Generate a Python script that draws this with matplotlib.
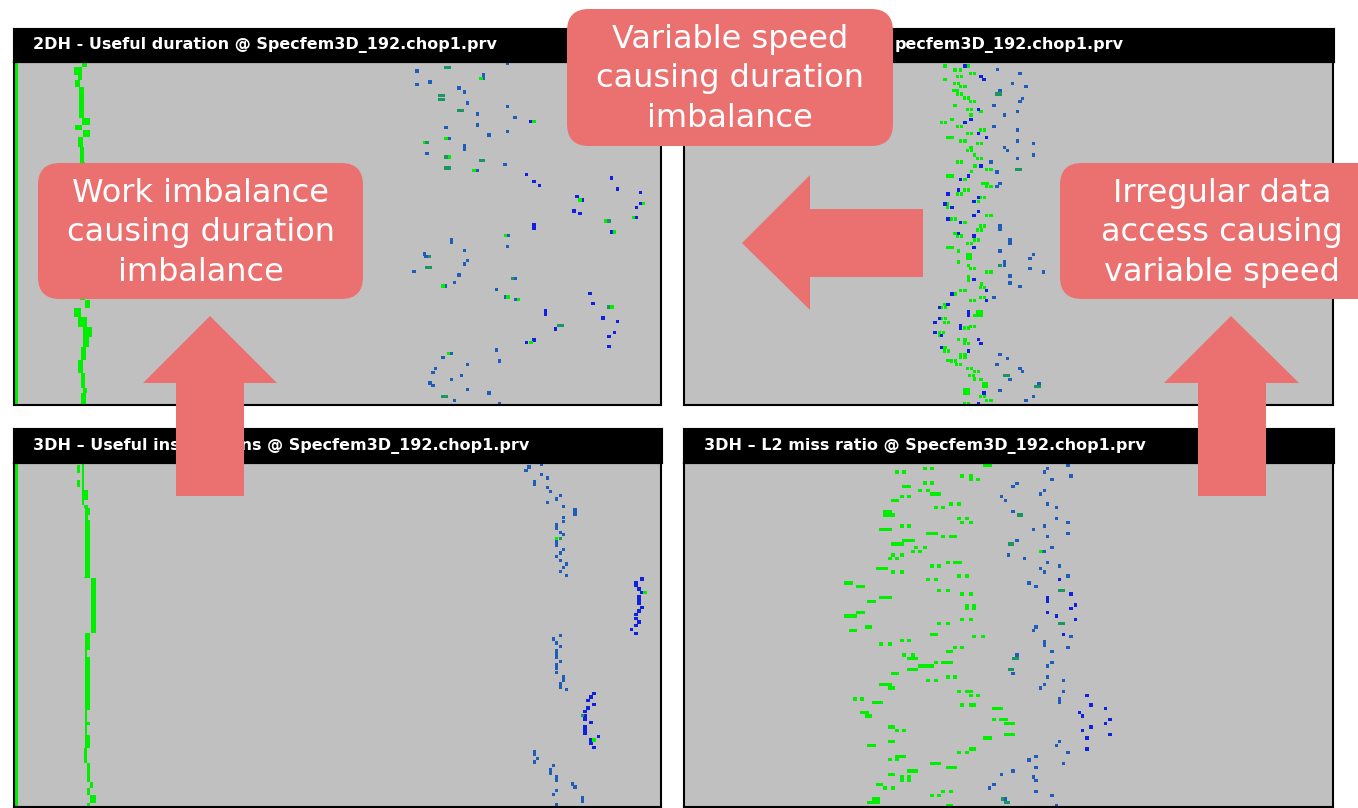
import numpy as np
import matplotlib
matplotlib.use("Agg")
import matplotlib.pyplot as plt
from matplotlib.patches import FancyBboxPatch, Polygon

# ---------------- data (histogram cells: x = value bin, y = thread row) ----------------
# the top-right title is largely hidden by a callout in the reference; only its visible tail is drawn
titles = ["2DH - Useful duration @ Specfem3D_192.chop1.prv",
          "pecfem3D_192.chop1.prv",
          "3DH \u2013 Useful instructions @ Specfem3D_192.chop1.prv",
          "3DH \u2013 L2 miss ratio @ Specfem3D_192.chop1.prv"]
title_offsets = [20, 212, 20, 21]  # px from the title bar's left edge
callout_texts = ["Variable speed\ncausing duration\nimbalance",
                 "Work imbalance\ncausing duration\nimbalance",
                 "Irregular data\naccess causing\nvariable speed"]

zero_bin = 7  # the always-present first bin on the left panels

# top-left: duration column (row edges, left, right)
tl_col_edges = [0, 14, 39, 54, 74, 169, 189, 204, 224, 254, 300, 714, 739, 764, 794, 824, 854, 894, 934, 979, 994, 1030]
tl_col_left = [203, 180, 193, 183, 196, 203, 183, 208, 193, 198, 198, 213, 181, 193, 208, 206, 201, 193, 201, 208, 201]
tl_col_right = [218, 203, 203, 198, 210, 228, 203, 228, 206, 210, 212, 228, 200, 220, 233, 226, 216, 208, 213, 218, 216]

tl_steel = [(1481, 4), (1209, 27), (1408, 38), (1408, 48), (1209, 67), (1248, 60), (1335, 78), (1352, 90),
            (1361, 123), (1391, 156), (1481, 134), (1503, 167), (1391, 189), (1425, 219), (1481, 208),
            (1296, 196), (1305, 230), (1239, 274), (1352, 252), (1352, 262), (1391, 326), (1473, 307),
            (1482, 521), (1481, 554), (1313, 532), (1313, 542), (1352, 566), (1231, 576), (1236, 584),
            (1361, 595), (1352, 606), (1200, 628), (1335, 639), (1322, 661), (1295, 672), (1503, 650),
            (1448, 683), (1474, 705), (1504, 713), (1448, 864), (1456, 897), (1313, 875), (1287, 886),
            (1265, 919), (1257, 931), (1361, 908), (1343, 941), (1313, 953), (1248, 963), (1257, 971),
            (1361, 982), (1425, 993), (1322, 1015), (1456, 1025)]
tl_deep = [(1538, 337), (1560, 359), (1577, 370), (1793, 348), (1811, 381), (1880, 392), (1689, 403),
           (1706, 414), (1680, 447), (1698, 455), (1880, 425), (1867, 436), (1867, 466), (1793, 510),
           (1560, 488), (1560, 498), (1595, 747), (1595, 757), (1625, 801), (1538, 842), (1560, 834),
           (1728, 694), (1737, 724), (1767, 768), (1811, 779), (1802, 812), (1785, 823), (1785, 853),
           (1551, 178)]
tl_green = [(1401, 49), (1296, 230), (1380, 326), (1698, 414), (1889, 425), (1859, 466), (1776, 477),
            (1802, 510), (1474, 521), (1287, 672), (1482, 705), (1513, 713), (1551, 842), (1304, 875),
            (1231, 241), (1306, 285), (1560, 178), (1794, 735)]
tl_teal = [(1295, 16), (1305, 16), (1277, 100), (1287, 100), (1277, 112), (1287, 112), (1334, 145),
           (1344, 145), (1239, 241), (1296, 285), (1295, 318), (1305, 318), (1399, 296), (1409, 296),
           (1785, 477), (1247, 584), (1239, 617), (1249, 617), (1495, 650), (1634, 790), (1644, 790),
           (1784, 735), (1287, 1004), (1296, 1004)]

# top-right
tr_green = [(783, 12), (813, 24), (830, 24), (853, 12), (860, 34), (872, 34), (783, 52), (820, 44), (832, 44),
            (812, 64), (824, 64), (830, 74), (843, 74), (810, 86), (820, 86), (820, 96), (832, 96), (842, 108),
            (854, 108), (860, 119), (872, 119), (813, 130), (850, 142), (862, 142), (891, 149), (861, 159),
            (804, 172), (772, 182), (784, 182), (820, 193), (832, 193), (850, 214), (862, 214), (889, 204),
            (901, 204), (792, 226), (804, 226), (830, 237), (843, 237), (880, 244), (892, 244), (861, 256),
            (850, 266), (862, 266), (871, 279), (880, 289), (892, 289), (820, 300), (832, 300), (873, 312),
            (863, 329), (908, 322), (921, 322), (792, 342), (804, 342), (843, 352), (897, 364), (909, 364),
            (908, 374), (921, 374), (842, 384), (854, 384), (820, 396), (832, 396), (890, 407), (902, 407),
            (791, 426), (791, 436), (883, 419), (802, 471), (814, 471), (843, 482), (908, 460), (921, 460),
            (890, 492), (902, 492), (880, 504), (892, 504), (813, 514), (820, 522), (832, 522), (871, 534),
            (883, 534), (850, 544), (862, 544), (792, 556), (804, 556), (823, 567), (850, 579), (860, 579),
            (850, 589), (860, 589), (823, 600), (853, 611), (860, 619), (872, 619), (908, 630), (921, 630),
            (853, 644), (853, 654), (893, 666), (890, 676), (902, 676), (830, 685), (843, 685), (813, 696),
            (860, 715), (872, 715), (890, 707), (902, 707), (783, 727), (772, 737), (784, 737), (881, 749),
            (891, 749), (881, 759), (891, 759), (871, 760), (772, 770), (784, 770), (782, 782), (794, 782),
            (842, 798), (854, 798), (860, 793), (872, 793), (767, 812), (779, 812), (768, 821), (823, 832),
            (843, 834), (842, 844), (854, 844), (783, 856), (782, 867), (794, 867), (792, 896), (802, 897),
            (814, 897), (830, 877), (830, 887), (843, 877), (843, 887), (817, 907), (829, 907), (850, 919),
            (862, 919), (871, 929), (883, 929), (857, 940), (869, 940), (871, 951), (891, 952), (898, 964),
            (908, 964), (898, 974), (908, 974), (843, 984), (853, 984), (843, 994), (853, 994), (890, 1004),
            (902, 1004), (908, 1015), (921, 1015), (842, 1025), (854, 1025)]
tr_teal = [(938, 96), (948, 96), (998, 322), (1008, 322), (963, 940), (973, 940), (1056, 974), (1066, 974),
           (948, 611)]
tr_deep = [(843, 12), (891, 44), (900, 52), (883, 142), (861, 172), (843, 182), (883, 214), (891, 312),
           (853, 342), (830, 352), (823, 384), (792, 396), (884, 407), (870, 419), (783, 426), (804, 436),
           (883, 449), (870, 460), (792, 471), (830, 482), (823, 514), (870, 522), (870, 556), (870, 652),
           (804, 696), (792, 727), (766, 737), (853, 749), (853, 759), (766, 770), (753, 782), (830, 790),
           (830, 800), (753, 812), (773, 821), (883, 832), (891, 844), (773, 856), (853, 867), (900, 993),
           (883, 1025), (908, 226), (908, 685), (908, 715)]
tr_steel = [(940, 22), (1008, 34), (986, 64), (1026, 74), (948, 86), (1016, 109), (1008, 119), (930, 130),
            (1000, 149), (961, 159), (930, 193), (1000, 204), (1000, 237), (1048, 244), (961, 256), (970, 266),
            (1048, 279), (1000, 289), (921, 300), (939, 330), (948, 364), (939, 374), (948, 492), (948, 502),
            (978, 534), (978, 544), (948, 567), (1048, 578), (1038, 589), (961, 600), (961, 610), (1038, 619),
            (1078, 630), (978, 642), (978, 663), (1008, 674), (930, 707), (948, 878), (970, 889), (939, 907),
            (1008, 919), (1016, 929), (978, 952), (1065, 964), (948, 985), (1048, 1004), (1026, 1015)]

# bottom-left: instructions column
bl_col_edges = [0, 16, 31, 51, 71, 81, 111, 126, 136, 156, 171, 341, 346, 511, 521, 561, 581, 741, 776, 786,
                816, 856, 901, 956, 976, 996, 1021, 1032]
bl_col_left = [203, 203, 203, 203, 203, 203, 203, 210, 213, 213, 213, 210, 230, 213, 213, 213, 213, 213, 213,
               213, 213, 210, 220, 228, 220, 228, 220]
bl_col_right = [210, 210, 210, 210, 210, 221, 210, 221, 228, 221, 228, 228, 246, 228, 228, 220, 228, 220, 228,
                220, 228, 220, 228, 238, 228, 246, 228]
bl_col_extra = [(194, 12), (194, 24), (194, 56), (194, 66)]

bl_steel = [(1583, 3), (1545, 12), (1536, 23), (1583, 34), (1601, 45), (1562, 55), (1562, 65), (1601, 74),
            (1610, 86), (1640, 97), (1627, 108), (1601, 119), (1649, 130), (1683, 141), (1683, 153),
            (1649, 164), (1649, 176), (1627, 186), (1627, 197), (1640, 208), (1649, 215), (1627, 237),
            (1627, 248), (1649, 259), (1640, 270), (1627, 281), (1640, 292), (1658, 303), (1649, 314),
            (1640, 325), (1658, 337), (1640, 518), (1618, 528), (1627, 540), (1640, 551), (1627, 563),
            (1627, 573), (1627, 583), (1640, 595), (1627, 606), (1627, 617), (1627, 628), (1649, 640),
            (1649, 651), (1640, 662), (1640, 672), (1658, 680), (1562, 865), (1562, 875), (1570, 886),
            (1562, 897), (1618, 908), (1610, 920), (1610, 930), (1627, 942), (1627, 953), (1675, 963),
            (1683, 972), (1627, 983), (1618, 994), (1706, 1005), (1706, 1016), (1627, 1026)]
bl_deep = [(1884, 348), (1866, 358), (1866, 368), (1875, 378), (1884, 389), (1875, 400), (1875, 411),
           (1875, 422), (1884, 433), (1875, 444), (1866, 455), (1866, 466), (1875, 477), (1866, 488),
           (1853, 499), (1866, 511), (1740, 691), (1731, 702), (1722, 713), (1740, 724), (1722, 735),
           (1713, 746), (1713, 757), (1713, 768), (1731, 779), (1713, 790), (1713, 801), (1713, 812),
           (1753, 820), (1731, 831), (1731, 842), (1740, 853)]
bl_green = [(1627, 226), (1893, 389), (1740, 831)]
bl_teal = [(1640, 226), (1706, 757)]

# bottom-right: L2 miss ratio (green runs: left, width, row)
br_green_runs = [(898, 26, 6), (633, 12, 27), (655, 12, 27), (716, 12, 17), (738, 12, 17), (829, 12, 39),
                 (855, 12, 39), (855, 12, 49), (877, 12, 49), (716, 12, 60), (738, 12, 60), (655, 25, 71),
                 (703, 12, 82), (725, 12, 82), (738, 34, 93), (647, 12, 101), (669, 12, 101), (620, 26, 112),
                 (794, 12, 123), (820, 12, 123), (750, 12, 134), (772, 12, 134), (598, 27, 145), (598, 35, 156),
                 (820, 12, 167), (842, 12, 167), (829, 12, 178), (855, 12, 178), (647, 12, 189), (669, 12, 189),
                 (585, 39, 200), (725, 38, 211), (772, 12, 221), (794, 26, 221), (655, 38, 232), (620, 39, 243),
                 (690, 12, 254), (716, 12, 254), (681, 12, 265), (703, 12, 265), (620, 12, 276), (647, 12, 276),
                 (611, 12, 287), (633, 12, 287), (785, 12, 298), (807, 26, 298), (738, 12, 309), (760, 12, 309),
                 (576, 35, 317), (620, 12, 327), (647, 12, 327), (725, 12, 349), (751, 12, 349), (820, 12, 339),
                 (842, 12, 339), (480, 27, 360), (516, 26, 371), (760, 12, 382), (785, 12, 382), (829, 12, 393),
                 (855, 12, 393), (585, 39, 404), (550, 26, 415), (842, 12, 427), (842, 12, 437), (864, 12, 427),
                 (864, 12, 437), (516, 26, 448), (480, 40, 459), (829, 12, 470), (855, 12, 470), (760, 12, 481),
                 (785, 12, 481), (542, 21, 492), (494, 26, 503), (738, 25, 514), (864, 12, 521), (890, 12, 521),
                 (585, 12, 543), (611, 12, 543), (647, 12, 532), (669, 12, 532), (807, 12, 554), (829, 12, 554),
                 (785, 22, 565), (655, 12, 576), (681, 12, 576), (668, 34, 587), (750, 12, 598), (772, 35, 598),
                 (703, 47, 609), (668, 34, 620), (620, 26, 631), (785, 12, 642), (807, 12, 642), (725, 12, 653),
                 (751, 12, 653), (585, 39, 664), (611, 22, 675), (820, 12, 686), (842, 25, 686), (855, 12, 697),
                 (877, 12, 697), (507, 12, 708), (529, 12, 708), (563, 35, 719), (829, 12, 726), (855, 22, 726),
                 (923, 35, 737), (529, 25, 748), (542, 21, 759), (923, 14, 770), (946, 26, 770), (959, 34, 781),
                 (611, 22, 792), (633, 12, 803), (655, 12, 803), (898, 26, 825), (959, 34, 814), (611, 22, 836),
                 (550, 26, 847), (855, 21, 858), (820, 12, 868), (842, 12, 868), (633, 34, 880), (611, 12, 890),
                 (633, 12, 890), (738, 34, 902), (785, 35, 913), (668, 34, 924), (611, 22, 935), (647, 12, 942),
                 (647, 12, 952), (669, 12, 942), (669, 12, 952), (576, 22, 964), (598, 12, 975), (620, 12, 975),
                 (772, 12, 986), (794, 12, 986), (738, 12, 997), (760, 12, 997), (563, 26, 1008), (550, 39, 1019),
                 (785, 22, 1028)]
br_teal = [(1003, 156), (1013, 156), (976, 243), (986, 243), (1080, 265), (1127, 382), (1137, 382),
           (1127, 481), (1137, 481), (989, 587), (999, 587), (976, 620), (986, 620), (964, 1019), (974, 1019),
           (957, 1008)]
br_green_extra = [(1070, 265)]
br_deep = [(1126, 349), (1161, 393), (1091, 404), (1091, 414), (1174, 426), (1161, 437), (1091, 448),
           (1117, 459), (1174, 470), (1139, 514), (1209, 697), (1221, 726), (1265, 737), (1187, 748),
           (1196, 759), (1278, 770), (1265, 781), (1221, 792), (1196, 803), (1278, 814), (1209, 825),
           (1209, 858)]
br_steel = [(1091, 16), (1082, 27), (1152, 6), (1104, 49), (1161, 39), (999, 61), (987, 71), (1082, 82),
            (1069, 93), (952, 101), (965, 112), (1091, 123), (1117, 134), (987, 145), (1117, 167), (1152, 178),
            (1082, 189), (1048, 200), (1091, 221), (1152, 211), (999, 232), (1104, 254), (1082, 265), (974, 276),
            (1021, 287), (1091, 298), (1126, 309), (1069, 317), (1082, 327), (1152, 339), (1035, 360),
            (1056, 371), (1056, 492), (1048, 503), (1161, 521), (1082, 536), (1082, 546), (1104, 565),
            (1152, 554), (999, 576), (1104, 598), (1091, 609), (987, 631), (1091, 642), (1082, 664), (1069, 675),
            (1139, 653), (1139, 686), (1126, 708), (1126, 718), (1126, 836), (1117, 847), (1152, 869),
            (1056, 880), (1035, 891), (1139, 902), (1056, 913), (987, 924), (952, 935), (1048, 942), (1056, 953),
            (930, 964), (917, 975), (1056, 986), (1104, 997), (965, 1008), (1117, 1028)]

# ---------------- style ----------------
GREEN = "#00EE00"
TEAL = "#1A9660"
STEEL = "#1F5DBA"
DEEP = "#1020E0"
GRAY = "#C0C0C0"
SALMON = "#EB7070"
CELL = 10

W, H = 1358, 808
fig = plt.figure(figsize=(W / 100, H / 100), dpi=100)
fig.patch.set_facecolor("white")


def frac(x0, y0, x1, y1):
    return [x0 / W, 1 - y1 / H, (x1 - x0) / W, (y1 - y0) / H]


def cells(ax, pts, color, w=CELL, h=CELL):
    if not pts:
        return
    xs, ys = zip(*pts)
    ys = np.asarray(ys, float)
    ax.bar(xs, h, width=w, bottom=ys - h / 2, color=color, linewidth=0, align="center")


def runs(ax, data, color, h=CELL):
    lefts, widths, ys = zip(*data)
    ys = np.asarray(ys, float)
    ax.bar(lefts, h, width=widths, bottom=ys - h / 2, color=color, linewidth=0, align="edge")


def column(ax, edges, left, right, color):
    edges = np.asarray(edges, float)
    left = np.asarray(left, float)
    right = np.asarray(right, float)
    ax.bar(left, np.diff(edges), width=right - left, bottom=edges[:-1], color=color,
           linewidth=0, align="edge")


panels = [  # title rect, plot rect
    ((13, 28, 662, 62), (14, 62, 661, 405)),
    ((683, 28, 1334, 62), (684, 62, 1333, 405)),
    ((13, 428, 662, 463), (14, 463, 661, 807)),
    ((683, 428, 1334, 463), (684, 463, 1333, 807)),
]

axes = []
for i, (trect, prect) in enumerate(panels):
    ax = fig.add_axes(frac(*prect))
    ax.set_facecolor(GRAY)
    ax.set_xlim(0, 3 * (prect[2] - prect[0]))
    ax.set_ylim(3 * (prect[3] - prect[1]), 0)
    ax.set_xticks([])
    ax.set_yticks([])
    for s in ax.spines.values():
        s.set_color("black")
        s.set_linewidth(1.5)
    axes.append(ax)

    tax = fig.add_axes(frac(*trect))
    tax.set_facecolor("black")
    tax.set_xticks([])
    tax.set_yticks([])
    for s in tax.spines.values():
        s.set_color("black")
    bw = trect[2] - trect[0]
    tax.text(title_offsets[i] / bw, 0.5, titles[i], transform=tax.transAxes, color="white",
             fontsize=11.5, fontweight="bold", ha="left", va="center", family="DejaVu Sans")

ax_tl, ax_tr, ax_bl, ax_br = axes

# top-left
ax_tl.bar(zero_bin, 1029, width=8, bottom=0, color=GREEN, linewidth=0)
column(ax_tl, tl_col_edges, tl_col_left, tl_col_right, GREEN)
cells(ax_tl, tl_steel, STEEL)
cells(ax_tl, tl_deep, DEEP)
cells(ax_tl, tl_green, GREEN)
cells(ax_tl, tl_teal, TEAL)

# top-right
cells(ax_tr, tr_green, GREEN)
cells(ax_tr, tr_teal, TEAL)
cells(ax_tr, tr_deep, DEEP)
cells(ax_tr, tr_steel, STEEL)

# bottom-left
ax_bl.bar(zero_bin, 1032, width=8, bottom=0, color=GREEN, linewidth=0)
column(ax_bl, bl_col_edges, bl_col_left, bl_col_right, GREEN)
cells(ax_bl, bl_col_extra, GREEN, w=8)
cells(ax_bl, bl_steel, STEEL)
cells(ax_bl, bl_deep, DEEP)
cells(ax_bl, bl_green, GREEN)
cells(ax_bl, bl_teal, TEAL)

# bottom-right
runs(ax_br, br_green_runs, GREEN)
cells(ax_br, br_green_extra, GREEN)
cells(ax_br, br_teal, TEAL)
cells(ax_br, br_deep, DEEP)
cells(ax_br, br_steel, STEEL)

# ---------------- annotation overlay ----------------
ov = fig.add_axes([0, 0, 1, 1], zorder=10)
ov.set_xlim(0, W)
ov.set_ylim(H, 0)
ov.axis("off")
ov.patch.set_alpha(0)

boxes = [(567, 9, 326, 137, 730, 79), (38, 163, 325, 136, 201, 233), (1060, 163, 330, 136, 1222, 233)]
for (x0, y0, bw, bh, cx, cy), txt in zip(boxes, callout_texts):
    ov.add_patch(FancyBboxPatch((x0, y0), bw, bh, boxstyle="round,pad=0,rounding_size=22",
                                facecolor=SALMON, edgecolor="none"))
    ov.text(cx, cy, txt, color="white", fontsize=23, ha="center", va="center",
            multialignment="center", linespacing=1.35, family="DejaVu Sans")

arrows = [
    [(210, 316), (277, 383), (244, 383), (244, 496), (176, 496), (176, 383), (143, 383)],
    [(1231, 316), (1299, 383), (1266, 383), (1266, 496), (1198, 496), (1198, 383), (1164, 383)],
    [(742, 243), (810, 175), (810, 209), (923, 209), (923, 277), (810, 277), (810, 310)],
]
for pts in arrows:
    ov.add_patch(Polygon(pts, closed=True, facecolor=SALMON, edgecolor="none"))

fig.savefig("out.png", dpi=100, facecolor="white")
